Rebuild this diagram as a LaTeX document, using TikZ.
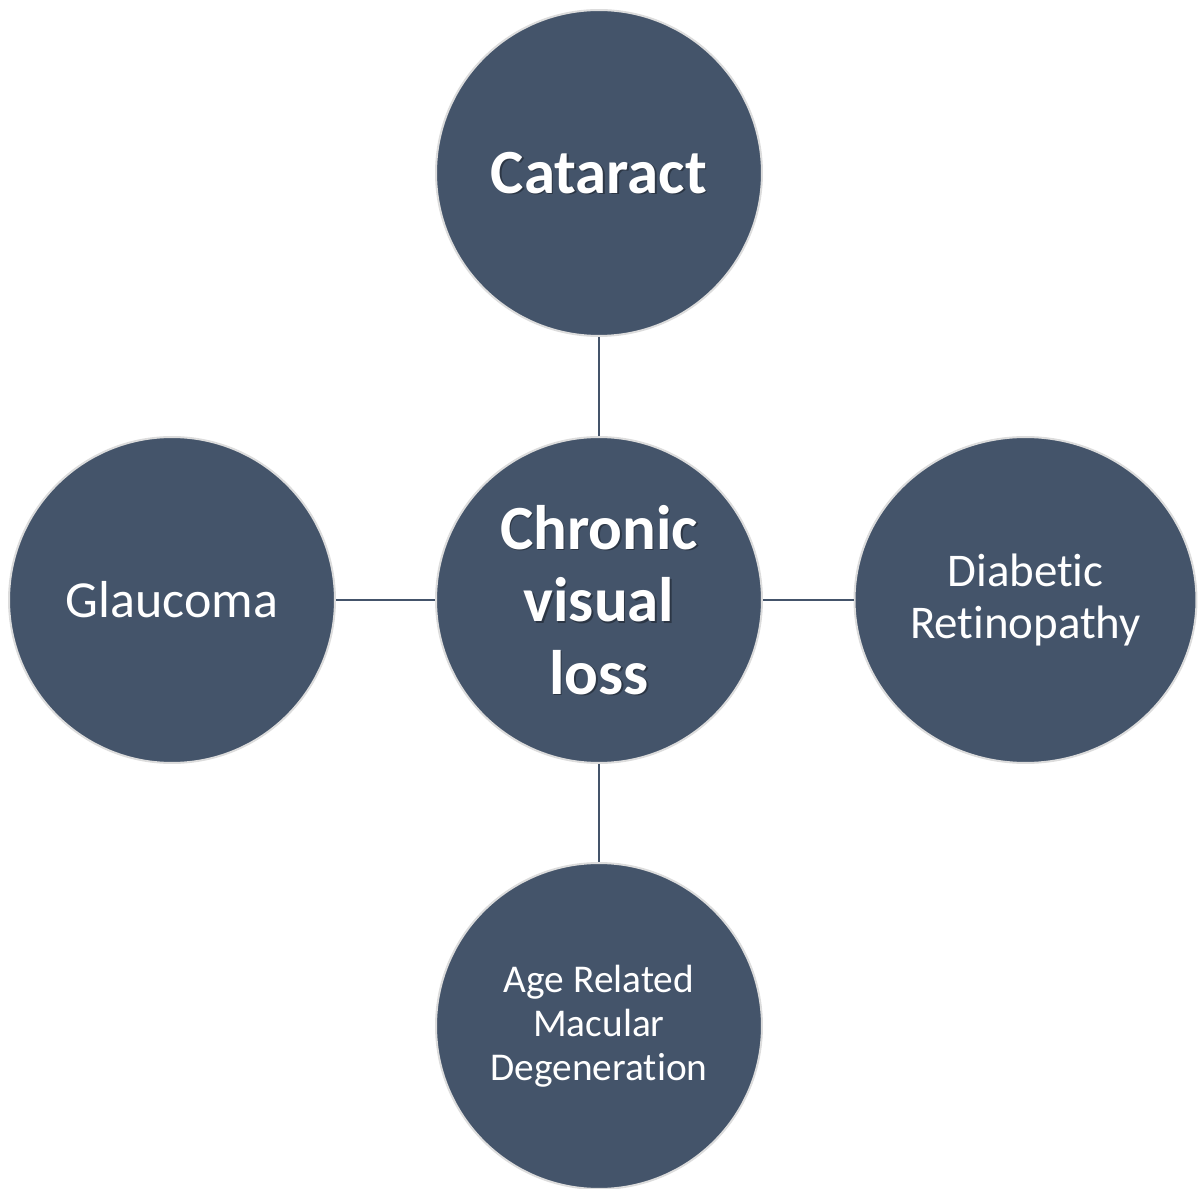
\documentclass[tikz,border=0pt]{standalone}
\usepackage{fontspec}
\setmainfont{Carlito}[Ligatures={NoCommon}]
\usetikzlibrary{shapes.geometric}
\definecolor{fillc}{HTML}{44546A}
\definecolor{rimc}{HTML}{DCDCDC}
\tikzset{
  px/.style={x=0.02cm,y=-0.02cm},
  disc/.style={circle,fill=fillc,draw=rimc,line width=0.04cm,minimum size=6.52cm,inner sep=0pt,text=white,align=center},
  oval/.style={ellipse,fill=fillc,draw=rimc,line width=0.04cm,minimum width=6.84cm,minimum height=6.52cm,inner sep=0pt,text=white,align=center},
  link/.style={draw=fillc,line width=0.045cm},
  bigtxt/.style={font=\fontsize{35.8}{41.3}\selectfont\bfseries,align=center},
  shadowtxt/.style={bigtxt,text=black,text opacity=0.35},
}
\begin{document}
\begin{tikzpicture}[px]
\useasboundingbox (0,0) rectangle (1198,1189);
\node[disc] (c) at (599,600) {};
\node[disc] (t) at (599,173) {};
\node[disc] (l) at (172,600) {};
\node[oval] (r) at (1025.5,600) {};
\node[disc] (b) at (599,1026) {};
\draw[link] (c.north) -- (t.south);
\draw[link] (c.south) -- (b.north);
\draw[link] (c.west) -- (l.east);
\draw[link] (c.east) -- (r.west);
% texts
\node[shadowtxt] (tsh) at ([shift={(1.5,1.5)}]t) {Cataract};
\node[bigtxt,text=white] (tt) at (t) {Cataract};
\node[shadowtxt] (csh) at ([shift={(1.5,1.5)}]c) {Chronic\\visual\\loss};
\node[bigtxt,text=white] (ct) at (c) {Chronic\\visual\\loss};
\node[text=white,font=\fontsize{29.6}{35}\selectfont] (lt) at (l) {Glaucoma};
\node[text=white,align=center,font=\fontsize{26.7}{29.6}\selectfont] (rt) at (r) {Diabetic\\Retinopathy};
\node[text=white,align=center,font=\fontsize{22.4}{25}\selectfont] (bt) at (b) {Age Related\\Macular\\Degeneration};
\end{tikzpicture}
\end{document}
